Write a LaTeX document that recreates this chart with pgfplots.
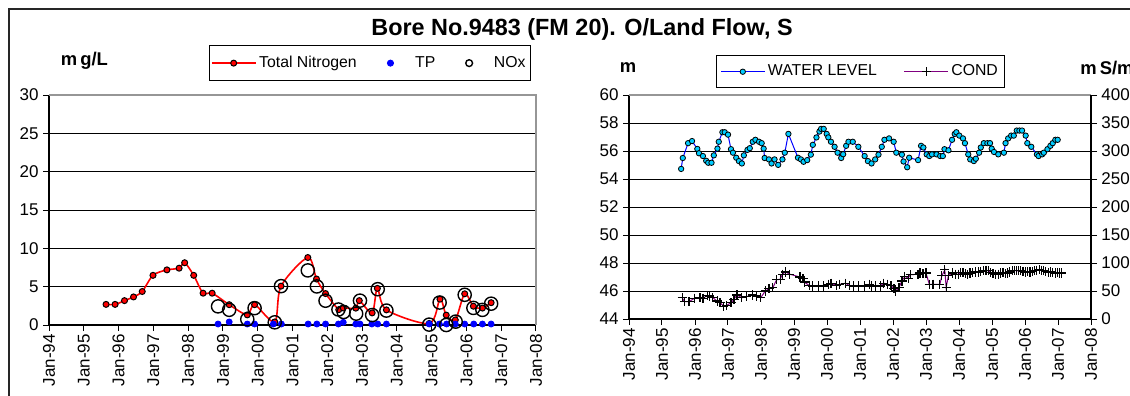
\documentclass[border=0pt]{standalone}
\usepackage{pgfplots}
\pgfplotsset{compat=1.18}
\usepackage{fontspec}
\setmainfont{Liberation Sans}
\definecolor{wlfill}{RGB}{0,204,255}
\definecolor{condline}{RGB}{128,0,128}
\definecolor{bordergray}{RGB}{150,150,150}

\pgfplotsset{
  bore/.style={
    scale only axis,
    xmin=1994, xmax=2008,
    xtick={1994,1995,...,2008},
    xticklabels={Jan-94,Jan-95,Jan-96,Jan-97,Jan-98,Jan-99,Jan-00,Jan-01,Jan-02,Jan-03,Jan-04,Jan-05,Jan-06,Jan-07,Jan-08},
    xticklabel style={rotate=90, anchor=east, font=\fontsize{8.5}{9}\selectfont, inner sep=1.5pt},
    yticklabel style={font=\fontsize{8.5}{9}\selectfont, inner sep=2pt},
    tick align=outside,
    major tick length=3pt,
    tick style={black, line width=0.5pt},
    axis x line*=bottom, axis y line*=left,
    axis line style={black, line width=0.6pt, -},
    ymajorgrids, grid style={black, line width=0.4pt},
    /pgf/number format/assume math mode=true,
    clip=false,
    legend style={draw=black, line width=0.5pt, fill=white,
      font=\fontsize{7.9}{8.5}\selectfont, inner xsep=2pt, inner ysep=3.2pt,
      nodes={inner xsep=1.5pt}},
    legend cell align=left,
    legend image code/.code={\path[draw=none,fill=none] (0pt,0pt) -- (21.75pt,0pt); \draw[mark repeat=2,mark phase=2,##1] plot coordinates {(0pt,0pt) (10.9pt,0pt) (21.75pt,0pt)};},
  },
  marks legend/.style={
    legend image code/.code={\path[draw=none,fill=none] (0pt,0pt) -- (21.75pt,0pt); \draw[##1] plot coordinates {(10.9pt,0pt)};}
  },
}

\begin{document}
\begin{tikzpicture}[x=1pt,y=1pt]
\useasboundingbox (0,0) rectangle (565,-198);
\draw[line width=0.9pt, black!85] (4.5,-4.5) rectangle (640,-300);
\node[font=\bfseries\fontsize{11.7}{13}\selectfont] at (291,-14.5) {Bore No.9483 (FM 20). O/Land Flow, S};
\node[font=\bfseries\fontsize{9.2}{10}\selectfont] at (42.2,-30.5) {m\,g/L};
\node[font=\bfseries\fontsize{9.2}{10}\selectfont] at (314,-34) {m};
\node[anchor=west, font=\bfseries\fontsize{9.2}{10}\selectfont, inner sep=0pt] at (540,-34) {m\,S/m};

% ---------------- left chart ----------------
\begin{axis}[bore, at={(24.5pt,-162.5pt)}, anchor=south west,
  width=243.5pt, height=115pt,
  ymin=0, ymax=30, ytick={0,5,...,30},
  legend columns=3,
  legend style={at={(0.3285,1.2174)}, anchor=north west, inner xsep=0.8pt,
    /tikz/every even column/.append style={column sep=4.5pt}}]
\addplot[red, line width=0.8pt, smooth, tension=0.5, mark=*, mark size=1.5pt,
  mark options={fill=red, draw=black, line width=0.5pt, solid}] coordinates {
(1995.64,2.69)(1995.90,2.69)(1996.17,3.18)(1996.43,3.66)(1996.68,4.37)
(1996.99,6.48)(1997.39,7.19)(1997.74,7.41)(1997.90,8.12)(1998.16,6.48)
(1998.43,4.15)(1998.69,4.15)(1999.18,2.65)(1999.70,1.32)(1999.91,2.65)
(2000.49,0.40)(2000.67,5.07)(2001.44,8.80)(2001.69,6.00)(2001.95,4.10)
(2002.33,2.00)(2002.46,2.22)(2002.82,2.20)(2002.92,3.18)(2003.29,1.58)
(2003.44,4.78)(2003.70,1.97)(2004.93,0.20)(2005.24,3.37)(2005.42,1.29)
(2005.68,0.66)(2005.95,4.07)(2006.20,2.45)(2006.46,2.21)(2006.71,2.91)
};
\addlegendentry{Total Nitrogen}
\addplot[only marks, marks legend, mark=*, mark size=1.5pt, mark options={fill=blue, draw=blue}] coordinates {
(1998.86,0.13)(1999.18,0.40)(1999.70,0.13)(1999.91,0.13)(2000.45,0.13)
(2000.68,0.13)(2001.45,0.13)(2001.70,0.13)(2001.95,0.13)(2002.32,0.13)
(2002.46,0.35)(2002.82,0.13)(2002.94,0.13)(2003.28,0.13)(2003.45,0.13)
(2003.70,0.13)(2004.93,0.13)(2005.22,0.13)(2005.43,0.13)(2005.68,0.13)
(2005.95,0.13)(2006.21,0.13)(2006.46,0.13)(2006.71,0.13)
};
\addlegendentry{TP}
\addplot[only marks, marks legend, mark=o, mark size=3.3pt, mark options={draw=black, line width=0.7pt},
  legend image post style={mark size=1.7pt}] coordinates {
(1998.86,2.43)(1999.18,1.98)(1999.70,0.75)(1999.91,2.20)(2000.49,0.35)
(2000.67,5.07)(2001.44,7.12)(2001.70,5.03)(2001.95,3.17)(2002.32,2.02)
(2002.47,1.70)(2002.83,1.48)(2002.94,3.18)(2003.29,1.30)(2003.45,4.67)
(2003.70,1.88)(2004.93,0.05)(2005.23,2.93)(2005.42,0.00)(2005.69,0.44)
(2005.95,3.94)(2006.20,2.23)(2006.46,1.97)(2006.71,2.78)
};
\addlegendentry{NOx}
\draw[bordergray, line width=0.6pt] (rel axis cs:0,1) -- (rel axis cs:1,1) -- (rel axis cs:1,0);
\end{axis}

% ---------------- right chart ----------------
\begin{axis}[bore, at={(314.5pt,-159.5pt)}, anchor=south west,
  width=231pt, height=112pt,
  ymin=44, ymax=60, ytick={44,46,...,60}]
\addplot[blue, line width=0.5pt, mark=*, mark size=1.35pt,
  mark options={fill=wlfill, draw=black, line width=0.4pt}] coordinates {
(1995.58,54.72)(1995.63,55.50)(1995.79,56.56)(1995.91,56.71)(1996.07,56.15)
(1996.12,55.84)(1996.24,55.64)(1996.34,55.30)(1996.40,55.16)(1996.50,55.16)
(1996.57,55.69)(1996.68,56.17)(1996.72,56.66)(1996.83,57.34)(1996.90,57.34)
(1997.00,57.17)(1997.09,56.13)(1997.15,55.88)(1997.25,55.52)(1997.33,55.28)
(1997.42,55.11)(1997.48,55.69)(1997.59,56.08)(1997.66,56.20)(1997.75,56.66)
(1997.83,56.80)(1997.94,56.66)(1998.02,56.56)(1998.08,56.17)(1998.11,55.50)
(1998.24,55.40)(1998.32,55.11)(1998.41,55.40)(1998.52,55.01)(1998.65,55.40)
(1998.72,55.88)(1998.83,57.22)(1999.12,55.52)(1999.21,55.40)(1999.29,55.23)
(1999.40,55.35)(1999.51,55.74)(1999.57,56.44)(1999.68,56.97)(1999.77,57.39)
(1999.82,57.58)(1999.90,57.58)(1999.99,57.22)(2000.04,56.97)(2000.12,56.66)
(2000.23,56.30)(2000.32,55.88)(2000.43,55.50)(2000.49,55.77)(2000.58,56.37)
(2000.65,56.66)(2000.78,56.66)(2000.95,56.30)(2001.14,55.64)(2001.24,55.28)
(2001.35,55.11)(2001.46,55.40)(2001.56,55.74)(2001.66,56.30)(2001.74,56.80)
(2001.88,56.90)(2002.02,56.66)(2002.10,55.88)(2002.27,55.74)(2002.32,55.25)
(2002.43,54.84)(2002.49,55.52)(2002.76,55.35)(2002.85,56.37)(2002.92,56.25)
(2003.02,55.76)(2003.10,55.64)(2003.18,55.76)(2003.32,55.76)(2003.43,55.64)
(2003.51,55.64)(2003.56,56.13)(2003.68,56.05)(2003.79,56.80)(2003.87,57.22)
(2003.92,57.34)(2004.01,57.10)(2004.12,56.90)(2004.18,56.56)(2004.28,55.76)
(2004.34,55.40)(2004.45,55.28)(2004.51,55.45)(2004.61,55.88)(2004.66,56.25)
(2004.75,56.56)(2004.86,56.56)(2004.94,56.56)(2004.99,56.17)(2005.06,55.93)
(2005.19,55.76)(2005.36,55.88)(2005.41,56.56)(2005.49,56.90)(2005.58,57.10)
(2005.66,57.10)(2005.75,57.46)(2005.83,57.46)(2005.91,57.46)(2006.02,57.10)
(2006.07,56.56)(2006.19,56.30)(2006.36,55.76)(2006.41,55.64)(2006.52,55.76)
(2006.57,55.88)(2006.68,56.13)(2006.77,56.37)(2006.84,56.56)(2006.92,56.80)
(2006.99,56.80)
};
\draw[bordergray, line width=0.6pt] (rel axis cs:0,1) -- (rel axis cs:1,1);
\end{axis}
\begin{axis}[bore, at={(314.5pt,-159.5pt)}, anchor=south west,
  width=231pt, height=112pt,
  axis x line=none, axis y line*=right, ymajorgrids=false,
  ymin=0, ymax=400, ytick={0,50,...,400},
  legend columns=2,
  legend style={at={(0.1883,1.1786)}, anchor=north west, inner ysep=2.6pt,
    /tikz/every even column/.append style={column sep=12pt}}]
\addlegendimage{blue, line width=0.5pt, mark=*, mark size=1.35pt,
  mark options={fill=wlfill, draw=black, line width=0.4pt}}
\addlegendentry{WATER LEVEL}
\addplot[condline, line width=0.5pt, mark=+, mark size=2.3pt,
  mark options={draw=black, line width=0.6pt}] coordinates {
(1995.61,38)(1995.68,31)(1995.82,31)(1995.98,37)(1996.15,38)(1996.24,37)
(1996.37,42)(1996.45,41)(1996.54,38)(1996.67,32)(1996.76,29)(1996.87,23)
(1996.95,24)(1997.09,29)(1997.18,35)(1997.27,43)(1997.42,38)(1997.56,40)
(1997.75,43)(1997.86,41)(1997.99,38)(1998.13,50)(1998.24,54)(1998.36,56)
(1998.47,70)(1998.58,71)(1998.65,80)(1998.74,84)(1998.87,80)(1999.18,75)
(1999.27,72)(1999.31,66)(1999.46,60)(1999.57,59)(1999.73,59)(1999.90,59)
(2000.04,62)(2000.12,64)(2000.28,60)(2000.39,62)(2000.56,64)(2000.67,60)
(2000.81,59)(2000.95,59)(2001.14,59)(2001.28,62)(2001.36,59)(2001.48,59)
(2001.61,59)(2001.72,64)(2001.83,62)(2001.94,60)(2002.03,54)(2002.08,50)
(2002.18,56)(2002.27,68)(2002.36,76)(2002.46,73)(2002.52,79)(2002.76,80)
(2002.82,82)(2002.91,81)(2003.00,82)(2003.10,62)(2003.21,62)(2003.42,62)
(2003.48,77)(2003.57,88)(2003.61,56)(2003.68,78)(2003.81,82)(2003.90,80)
(2003.98,80)(2004.05,83)(2004.12,83)(2004.20,81)(2004.25,80)(2004.33,82)
(2004.42,83)(2004.50,84)(2004.58,84)(2004.66,85)(2004.75,86)(2004.82,87)
(2004.89,86)(2004.96,83)(2005.03,81)(2005.11,80)(2005.19,80)(2005.26,82)
(2005.33,83)(2005.40,81)(2005.47,82)(2005.54,84)(2005.61,86)(2005.68,87)
(2005.74,86)(2005.80,86)(2005.86,86)(2005.94,85)(2006.02,84)(2006.08,85)
(2006.15,84)(2006.22,85)(2006.29,86)(2006.36,87)(2006.44,88)(2006.50,87)
(2006.57,86)(2006.63,85)(2006.70,83)(2006.77,84)(2006.84,83)(2006.92,82)
(2006.99,83)(2007.05,82)(2007.10,82)
};
\addlegendentry{COND}
\end{axis}
\end{tikzpicture}
\end{document}
